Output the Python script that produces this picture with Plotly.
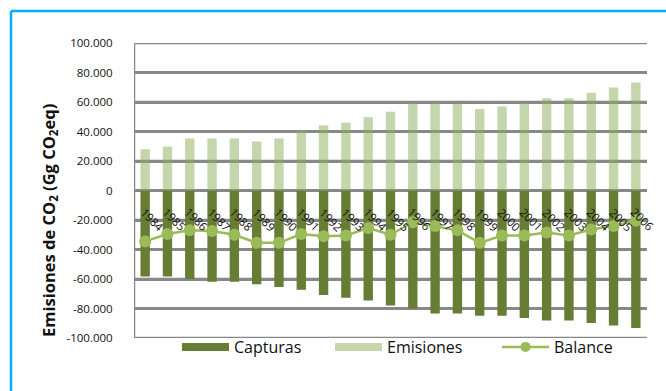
import plotly.graph_objects as go

# Years and series (Gg CO2eq)
years = [str(y) for y in range(1984, 2007)]
emisiones = [28000, 29800, 35300, 35300, 35300, 33200, 35300, 40800, 44200, 46000,
             49700, 53400, 58900, 58900, 58900, 55200, 57000, 58900, 62500, 62500,
             66200, 69900, 73300]
capturas = [-58300, -58300, -60000, -61800, -61800, -63600, -65500, -67300, -70900, -72700,
            -74500, -77900, -80000, -83400, -83400, -84900, -84900, -86500, -88200, -88200,
            -89900, -91600, -93300]
balance = [-34500, -29500, -27000, -27500, -30000, -35500, -35500, -29500, -31000, -30500,
           -25500, -30000, -21500, -24000, -27000, -35500, -30500, -30500, -28500, -30500,
           -26500, -24000, -20500]
y_ticks = [100000, 80000, 60000, 40000, 20000, 0, -20000, -40000, -60000, -80000, -100000]
y_ticktext = [f"{v:,}".replace(",", ".") for v in y_ticks]

DARK = "#687d34"
LIGHT = "rgba(140,172,90,0.5)"
LINE = "#9bbb59"
GRID = "#888888"
FONT = "Open Sans"

W, H = 666, 391
ML, MR, MT, MB = 134, 19, 43, 53
PW, PH = W - ML - MR, H - MT - MB

# category slots 0..n-1 on a linear axis
pos = list(range(len(years)))
x_lo, x_hi = -0.5, len(years) - 0.5


def px_x(x):
    return (x - ML) / PW


def px_y(y):
    return (H - MB - y) / PH


fig = go.Figure()
fig.add_trace(go.Bar(x=pos, y=capturas, name="Capturas", marker_color=DARK,
                     marker_line_width=0, width=0.42, showlegend=False))
fig.add_trace(go.Bar(x=pos, y=emisiones, name="Emisiones", marker_color=LIGHT,
                     marker_line_width=0, width=0.42, showlegend=False))
fig.add_trace(go.Scatter(x=pos, y=balance, name="Balance", mode="lines+markers",
                         line=dict(color=LINE, width=2.5),
                         marker=dict(color=LINE, size=12), showlegend=False))

# legend entries drawn as wide swatches, one legend box per entry
fig.add_trace(go.Scatter(x=[None], y=[None], name="Capturas", mode="lines",
                         line=dict(color=DARK, width=8), legend="legend"))
fig.add_trace(go.Scatter(x=[None], y=[None], name="Emisiones", mode="lines",
                         line=dict(color="#c6d6ab", width=8), legend="legend2"))
fig.add_trace(go.Scatter(x=[None], y=[None], name="Balance", mode="lines+markers",
                         line=dict(color=LINE, width=2.5),
                         marker=dict(color=LINE, size=10), legend="legend3"))

# horizontal gridlines and left axis line, under the bars
for v in y_ticks:
    fig.add_shape(type="line", xref="x", yref="y", x0=x_lo, x1=x_hi, y0=v, y1=v,
                  line=dict(color=GRID, width=2.5), layer="below")
fig.add_shape(type="line", xref="x", yref="y", x0=x_lo, x1=x_lo,
              y0=y_ticks[-1], y1=y_ticks[0], line=dict(color=GRID, width=2.5),
              layer="below")

# year labels sitting just under the zero line
for p, yr in zip(pos, years):
    fig.add_annotation(x=p, y=0, xref="x", yref="y", text=yr, showarrow=False,
                       textangle=45, xshift=7, yshift=-29,
                       xanchor="center", yanchor="middle",
                       font=dict(family=FONT, size=11.5, color="#111"))

# y-axis title
fig.add_annotation(xref="paper", yref="paper", x=px_x(49), y=px_y(221),
                   text="<b>Emisiones de CO<sub>2</sub> (Gg CO<sub>2</sub>eq)</b>",
                   showarrow=False, textangle=-90, xanchor="center", yanchor="middle",
                   font=dict(family=FONT, size=16.5, color="#111"))

# outer frame (top and left edges inside the page)
fig.add_shape(type="line", xref="paper", yref="paper",
              x0=px_x(11), x1=px_x(700), y0=px_y(11), y1=px_y(11),
              line=dict(color="#00b0f0", width=2.5))
fig.add_shape(type="line", xref="paper", yref="paper",
              x0=px_x(11), x1=px_x(11), y0=px_y(420), y1=px_y(11),
              line=dict(color="#00b0f0", width=2.5))

legend_common = dict(orientation="h", yanchor="middle", xanchor="left", y=px_y(347),
                     itemwidth=47, font=dict(size=16, family=FONT),
                     bgcolor="rgba(0,0,0,0)")

fig.update_layout(
    width=W, height=H,
    margin=dict(l=ML, r=MR, t=MT, b=MB, pad=0),
    paper_bgcolor="white", plot_bgcolor="white",
    barmode="relative",
    font=dict(family=FONT, color="#111"),
    legend=dict(x=px_x(177), **legend_common),
    legend2=dict(x=px_x(330), **legend_common),
    legend3=dict(x=px_x(497), **legend_common),
    xaxis=dict(type="linear", range=[x_lo, x_hi], showticklabels=False,
               showgrid=False, zeroline=False, showline=False, ticks=""),
    yaxis=dict(range=[-100000, 100000],
               tickmode="array", tickvals=y_ticks, ticktext=y_ticktext,
               showgrid=True, gridcolor=GRID, gridwidth=2.5,
               zeroline=True, zerolinecolor=GRID, zerolinewidth=2.5,
               showline=False,
               ticks="outside", ticklen=18, tickcolor="rgba(0,0,0,0)",
               tickfont=dict(family=FONT, size=11.5, color="#111")),
)

fig.write_html("out.html")
